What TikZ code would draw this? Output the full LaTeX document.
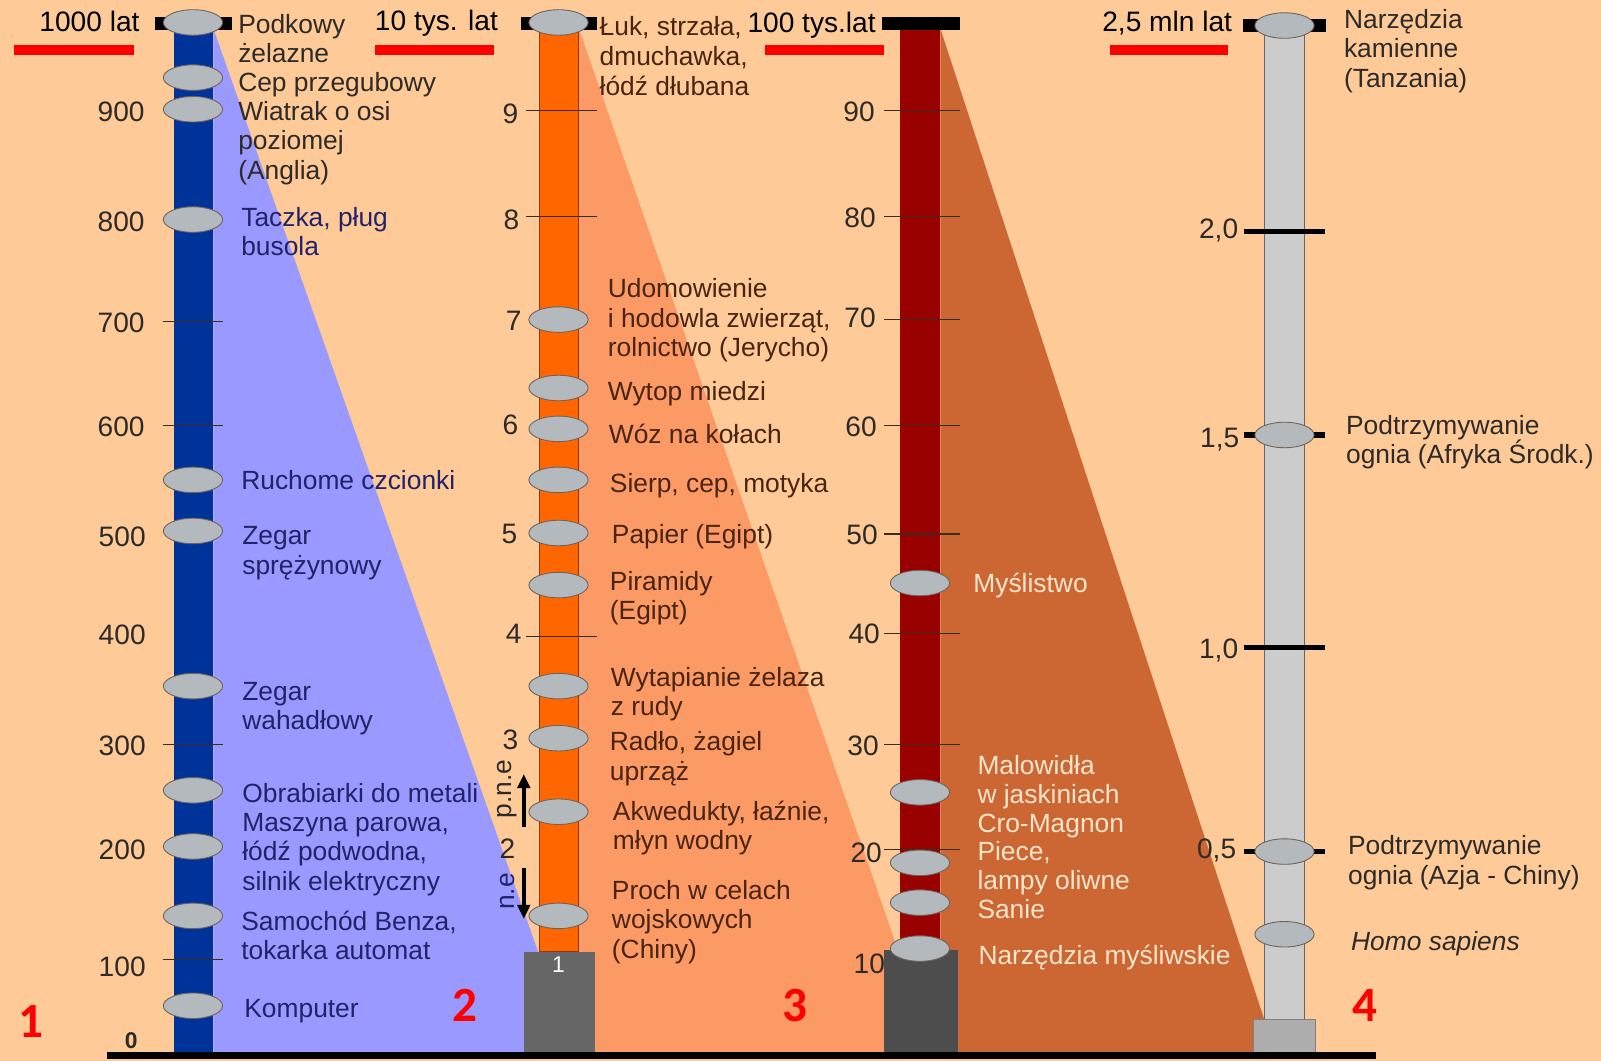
\documentclass[tikz,border=0pt]{standalone}
\usepackage{fontspec}
\setmainfont{Liberation Sans}
\newfontfamily\markfont{Carlito}
\usepackage{xcolor}
\definecolor{bgPeach}{HTML}{FDCA98}
\definecolor{barBlue}{HTML}{003399}
\definecolor{fanBlue}{HTML}{9999FF}
\definecolor{barOrange}{HTML}{FF6600}
\definecolor{barOrangeEdge}{HTML}{8A3A10}
\definecolor{fanOrange}{HTML}{FC9A66}
\definecolor{barRed}{HTML}{990000}
\definecolor{fanBrown}{HTML}{CC6633}
\definecolor{barGray}{HTML}{CCCCCC}
\definecolor{boxGray}{HTML}{666666}
\definecolor{boxDark}{HTML}{4D4D4D}
\definecolor{boxLight}{HTML}{ADADAD}
\definecolor{eventGray}{HTML}{B4B9BE}
\definecolor{eventEdge}{HTML}{6E625A}
\definecolor{tickDark}{HTML}{3A2A20}
\definecolor{markRed}{HTML}{FF0000}
\definecolor{textNavy}{HTML}{22226A}
\definecolor{textBrown}{HTML}{4A2412}
\definecolor{textCream}{HTML}{FBE6CC}
\definecolor{textDark}{HTML}{2E2A28}
\usetikzlibrary{shapes.geometric,arrows.meta}

\tikzset{
  event/.style={ellipse, draw=eventEdge, line width=0.5pt, fill=eventGray,
    minimum width=33.7pt, minimum height=14.5pt, inner sep=0pt},
  lbl/.style={anchor=west, align=left, inner sep=0pt, yshift=-1.7pt,
    font=\fontsize{15}{16.8}\selectfont},
  num/.style={anchor=east, inner sep=0pt, yshift=-0.6pt, text=textDark,
    font=\fontsize{16}{18}\selectfont},
  colmark/.style={inner sep=0pt, text=markRed,
    font=\markfont\bfseries\fontsize{28}{30}\selectfont},
  tickline/.style={draw=tickDark, line width=0.6pt},
  bigtick/.style={draw=black, line width=2.9pt},
  pointer/.style={draw=black, line width=2.2pt, -{Triangle[length=8pt,width=7pt]}}
}

\begin{document}
\begin{tikzpicture}[x=0.020421cm, y=-0.020421cm]
  \useasboundingbox (0,0) rectangle (1568,1039);
  \fill[bgPeach] (0,0) rectangle (1568,1039);

  \fill[fanBlue] (209,28) -- (528,935) -- (528,1033) -- (209,1033) -- cycle;
  \fill[fanOrange] (567,28) -- (881,935) -- (881,1033) -- (567,1033) -- cycle;
  \fill[fanBrown] (921,28) -- (1238,998) -- (1238,1033) -- (921,1033) -- cycle;

  \filldraw[fill=barBlue, draw=none] (170,22) rectangle (209,1033);
  \filldraw[fill=barOrange, draw=barOrangeEdge, line width=0.5pt] (528,22) rectangle (567,932);
  \filldraw[fill=barRed, draw=none] (881,28) rectangle (921,930);
  \filldraw[fill=barGray, draw=black!60, line width=0.5pt] (1238,28) rectangle (1278,998);

  \filldraw[fill=boxGray, draw=none] (513,932) rectangle (583,1033);
  \filldraw[fill=boxDark, draw=none] (866,930) rectangle (938,1033);
  \filldraw[fill=boxLight, draw=black!50, line width=0.5pt] (1228,998) rectangle (1288,1033);

  \fill[black] (152,17) rectangle (227,29);
  \fill[black] (510,17) rectangle (585,29);
  \fill[black] (864,17) rectangle (940,29);
  \fill[black] (1217,19) rectangle (1299,31);

  \draw[tickline] (160,315) -- (218,315);
  \draw[tickline] (160,417) -- (218,417);
  \draw[tickline] (160,729) -- (218,729);
  \draw[tickline] (160,940) -- (218,940);
  \draw[tickline] (515,108) -- (585,108);
  \draw[tickline] (515,212) -- (585,212);
  \draw[tickline] (515,623) -- (585,623);
  \draw[tickline] (866,108) -- (940,108);
  \draw[tickline] (866,212) -- (940,212);
  \draw[tickline] (866,313) -- (940,313);
  \draw[tickline] (866,417) -- (940,417);
  \draw[tickline] (866,523) -- (940,523);
  \draw[tickline] (866,620) -- (940,620);
  \draw[tickline] (866,729) -- (940,729);
  \draw[tickline] (866,832) -- (940,832);
  \draw[bigtick] (1218,227) -- (1298,227);
  \draw[bigtick] (1218,634) -- (1298,634);
  \draw[bigtick] (1218,426) -- (1298,426);
  \draw[bigtick] (1218,834) -- (1298,834);

  \node[event] (e1a) at (189,22) {};
  \node[event] (e1b) at (189,76) {};
  \node[event] (e1c) at (189,107) {};
  \node[event] (e1d) at (189,215) {};
  \node[event] (e1e) at (189,470) {};
  \node[event] (e1f) at (189,520) {};
  \node[event] (e1g) at (189,672) {};
  \node[event] (e1h) at (189,774) {};
  \node[event] (e1i) at (189,829) {};
  \node[event] (e1j) at (189,897) {};
  \node[event] (e1k) at (189,985) {};

  \node[event] (e2a) at (547,22) {};
  \node[event] (e2b) at (547,313) {};
  \node[event] (e2c) at (547,380) {};
  \node[event] (e2d) at (547,420) {};
  \node[event] (e2e) at (547,470) {};
  \node[event] (e2f) at (547,522) {};
  \node[event] (e2g) at (547,573) {};
  \node[event] (e2h) at (547,672) {};
  \node[event] (e2i) at (547,723) {};
  \node[event] (e2j) at (547,795) {};
  \node[event] (e2k) at (547,897) {};

  \node[event] (e3a) at (901,571) {};
  \node[event] (e3b) at (901,776) {};
  \node[event] (e3c) at (901,845) {};
  \node[event] (e3d) at (901,884) {};
  \node[event] (e3e) at (901,929) {};

  \node[event] (e4a) at (1258,25) {};
  \node[event] (e4b) at (1258,426) {};
  \node[event] (e4c) at (1258,834) {};
  \node[event] (e4d) at (1258,915) {};

  \fill[black] (105,1030) rectangle (1348,1037);

  \node[num, text=black] (h1) at (137,20) {1000 lat};
  \node[num] (n1a) at (142,108) {900};
  \node[num] (n1b) at (142,216) {800};
  \node[num] (n1c) at (142,315) {700};
  \node[num] (n1d) at (142,417) {600};
  \node[num] (n1e) at (143,525) {500};
  \node[num] (n1f) at (143,621) {400};
  \node[num] (n1g) at (143,729) {300};
  \node[num] (n1h) at (143,831) {200};
  \node[num] (n1i) at (143,946) {100};
  \node[num, font=\bfseries\fontsize{13}{15}\selectfont] (n1j) at (135,1018) {0};

  \node[num, text=black] (h2) at (488,22) {10 tys. lat};
  \node[num] (n2a) at (508,110) {9};
  \node[num] (n2b) at (509,214) {8};
  \node[num] (n2c) at (511,313) {7};
  \node[num] (n2d) at (508,415) {6};
  \node[num] (n2e) at (507,522) {5};
  \node[num] (n2f) at (511,620) {4};
  \node[num] (n2g) at (508,724) {3};
  \node[num] (n2h) at (505,830) {2};
  \node[inner sep=0pt, text=white, font=\fontsize{13}{15}\selectfont] (n2i) at (547,945) {1};

  \node[num, text=black] (h3) at (858,24) {100 tys.lat};
  \node[num] (n3a) at (857,108) {90};
  \node[num] (n3b) at (858,212) {80};
  \node[num] (n3c) at (858,310) {70};
  \node[num] (n3d) at (859,417) {60};
  \node[num] (n3e) at (860,523) {50};
  \node[num] (n3f) at (862,620) {40};
  \node[num] (n3g) at (861,729) {30};
  \node[num] (n3h) at (864,834) {20};
  \node[num] (n3i) at (867,943) {10};

  \node[num, text=black] (h4) at (1207,22) {2,5 mln lat};
  \node[num] (n4a) at (1213,225) {2,0};
  \node[num] (n4b) at (1214,430) {1,5};
  \node[num] (n4c) at (1213,636) {1,0};
  \node[num] (n4d) at (1211,832) {0,5};

  \node[lbl, text=textDark] (l1a) at (233,35) {Podkowy\\żelazne};
  \node[lbl, text=textDark] (l1b) at (233,80) {Cep przegubowy};
  \node[lbl, text=textDark] (l1c) at (233,137) {Wiatrak o osi\\poziomej\\(Anglia)};
  \node[lbl, text=textNavy] (l1d) at (236,224) {Taczka, pług\\busola};
  \node[lbl, text=textNavy] (l1e) at (236,467) {Ruchome czcionki};
  \node[lbl, text=textNavy] (l1f) at (237,539) {Zegar\\sprężynowy};
  \node[lbl, text=textNavy] (l1g) at (237,691) {Zegar\\wahadłowy};
  \node[lbl, text=textNavy] (l1h) at (237,774) {Obrabiarki do metali};
  \node[lbl, text=textNavy] (l1i) at (237,834) {Maszyna parowa,\\łódź podwodna,\\silnik elektryczny};
  \node[lbl, text=textNavy] (l1j) at (236,913) {Samochód Benza,\\tokarka automat};
  \node[lbl, text=textNavy] (l1k) at (239,987) {Komputer};

  \node[lbl, text=textBrown] (l2a) at (587,52) {Łuk, strzała,\\dmuchawka,\\łódź dłubana};
  \node[lbl, text=textBrown] (l2b) at (595,311) {Udomowienie\\i hodowla zwierząt,\\rolnictwo (Jerycho)};
  \node[lbl, text=textBrown] (l2c) at (595,383) {Wytop miedzi};
  \node[lbl, text=textBrown] (l2d) at (596,422) {Wóz na kołach};
  \node[lbl, text=textBrown] (l2e) at (597,473) {Sierp, cep, motyka};
  \node[lbl, text=textBrown] (l2f) at (599,523) {Papier (Egipt)};
  \node[lbl, text=textBrown] (l2g) at (597,583) {Piramidy\\(Egipt)};
  \node[lbl, text=textBrown] (l2h) at (598,677) {Wytapianie żelaza\\z rudy};
  \node[lbl, text=textBrown] (l2i) at (597,740) {Radło, żagiel\\uprząż};
  \node[lbl, text=textBrown] (l2j) at (600,808) {Akwedukty, łaźnie,\\młyn wodny};
  \node[lbl, text=textBrown] (l2k) at (599,900) {Proch w celach\\wojskowych\\(Chiny)};

  \node[lbl, text=textCream] (l3a) at (953,571) {Myślistwo};
  \node[lbl, text=textCream, font=\fontsize{15}{16.3}\selectfont] (l3b) at (957,817) {Malowidła\\w jaskiniach\\Cro-Magnon\\Piece,\\lampy oliwne\\Sanie};
  \node[lbl, text=textCream] (l3c) at (958,935) {Narzędzia myśliwskie};

  \node[lbl, text=textDark] (l4a) at (1316,47) {Narzędzia\\kamienne\\(Tanzania)};
  \node[lbl, text=textDark] (l4b) at (1318,430) {Podtrzymywanie\\ognia (Afryka Środk.)};
  \node[lbl, text=textDark] (l4c) at (1320,842) {Podtrzymywanie\\ognia (Azja - Chiny)};
  \node[lbl, text=textDark, font=\itshape\fontsize{15}{16.8}\selectfont] (l4d) at (1323,921) {Homo sapiens};

  \node[inner sep=0pt, rotate=90, text=textDark, font=\fontsize{15}{16.8}\selectfont] (bce) at (497,773) {p.n.e};
  \node[inner sep=0pt, rotate=90, text=textNavy, font=\fontsize{15}{16.8}\selectfont] (ce) at (497,873) {n.e};
  \coordinate (upFrom) at (513,810);
  \coordinate (upTo) at (513,758);
  \coordinate (downFrom) at (513,850);
  \coordinate (downTo) at (513,900);
  \draw[pointer] (upFrom) -- (upTo);
  \draw[pointer] (downFrom) -- (downTo);

  \fill[markRed] (14,44) rectangle (131,54);
  \fill[markRed] (367,44) rectangle (484,54);
  \fill[markRed] (749,44) rectangle (866,54);
  \fill[markRed] (1087,44) rectangle (1203,54);
  \node[colmark] (m1) at (30,1000) {1};
  \node[colmark] (m2) at (455,985) {2};
  \node[colmark] (m3) at (779,985) {3};
  \node[colmark] (m4) at (1337,985) {4};
\end{tikzpicture}
\end{document}
